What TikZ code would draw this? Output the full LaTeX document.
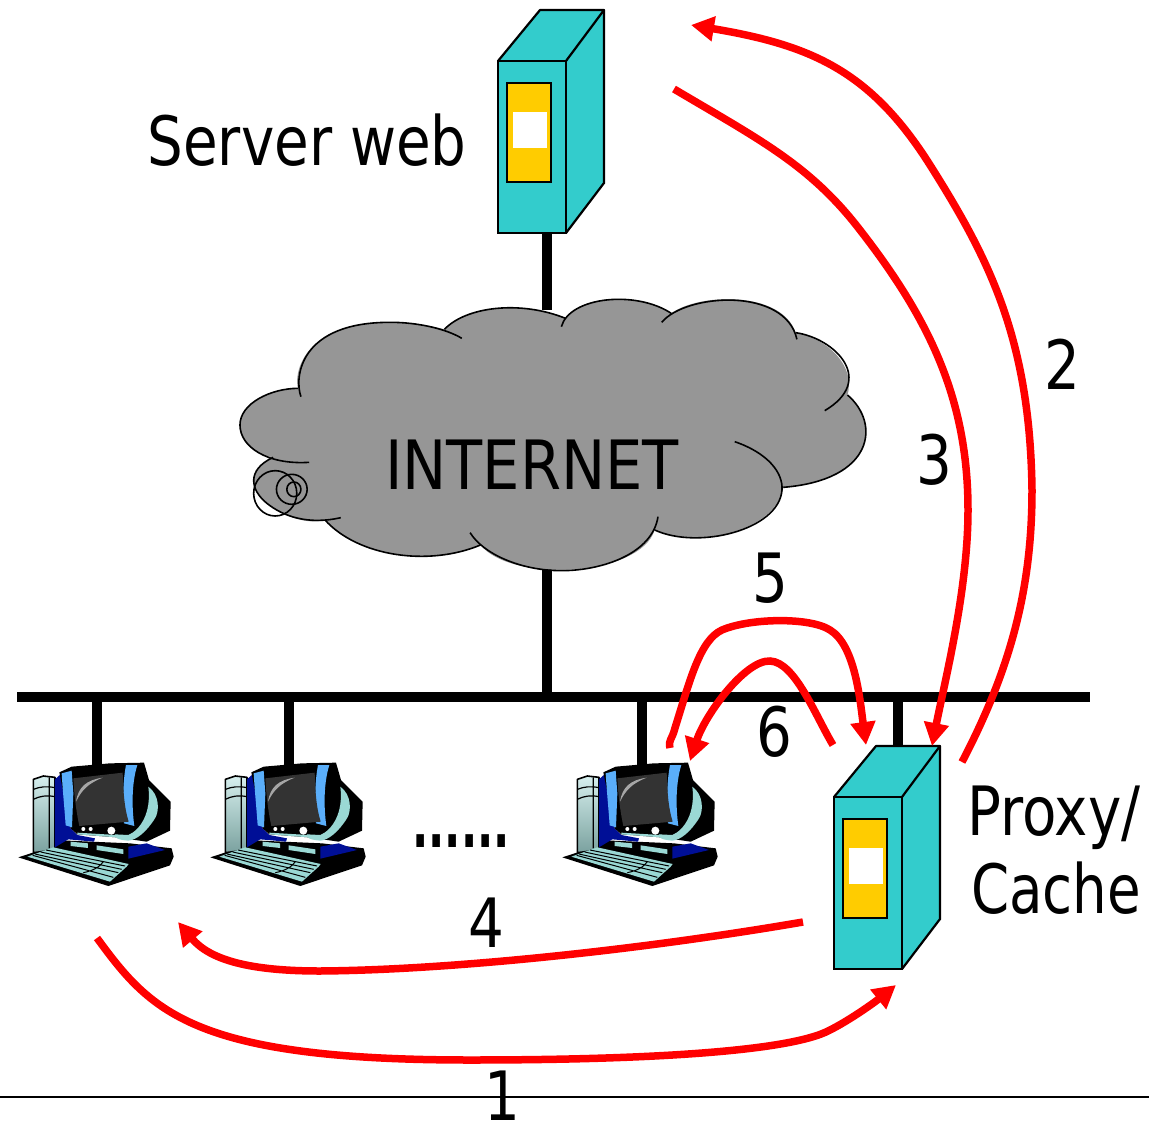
\documentclass[tikz,border=0pt]{standalone}
\usepackage{fontspec}
\setmainfont[FakeStretch=0.92]{DejaVu Sans Condensed}
\usetikzlibrary{arrows.meta}
\definecolor{boxteal}{HTML}{33CCCC}
\definecolor{boxgold}{HTML}{FFCC00}
\definecolor{cloudgray}{HTML}{969696}
\definecolor{netred}{HTML}{FF0000}
\definecolor{pcnavy}{HTML}{000F96}
\definecolor{pcblue}{HTML}{5AAEFA}
\definecolor{pcteal}{HTML}{9AD8D4}
\definecolor{pcscreen}{HTML}{333333}
\tikzset{
  x=1pt,y=-1pt,
  lbl/.style={inner sep=0pt,font=\fontsize{68}{80}\selectfont},
  wire/.style={line width=9.5pt,black},
  flow/.style={line width=7.5pt,netred,-{Triangle[length=23pt,width=24pt]}},
  front/.style={draw=black,line width=2.2pt,minimum width=68pt,minimum height=172pt,inner sep=0pt},
  pics/serverbox/.style={code={
    \fill[boxteal] (-34,-86) -- (8,-137) -- (72,-137) -- (72,36) -- (34,86) -- (-34,86) -- cycle;
    \draw[line width=2.2pt,line join=round] (-34,-86) -- (8,-137) -- (72,-137) -- (34,-86);
    \draw[line width=2.2pt] (72,-137) -- (72,36) -- (34,86);
    \draw[line width=2pt,fill=boxgold] (-25,-64) rectangle (19,35);
    \fill[white] (-19,-35) rectangle (15,1);
  }},
  pics/desktop/.style={code={
    \begin{scope}[scale=1/3]
      \fill[black] (55,352) -- (160,318) -- (160,300) -- (390,310) -- (515,325) -- (521,350) -- (510,376) -- (325,438) -- cycle;
      \shade[top color=white!60!pcteal,bottom color=pcteal!70!black!90,draw=black,line width=1.6pt,line join=round]
        (100,118) -- (130,108) -- (165,112) -- (165,330) -- (100,338) -- cycle;
      \draw[line width=1.2pt] (148,112) -- (148,325) (100,148) .. controls (120,140) and (140,138) .. (165,143);
      \draw[line width=1.2pt] (100,178) .. controls (120,168) and (140,165) .. (165,170);
      \fill[pcnavy] (165,118) -- (185,100) -- (212,265) -- (232,285) -- (285,295) -- (282,305) -- (205,298) -- (165,322) -- cycle;
      \fill[pcnavy] (385,320) -- (440,310) -- (495,330) -- (385,356) -- cycle;
      \fill[black] (178,97) -- (215,80) -- (330,70) -- (432,68) -- (447,120) -- (512,185) -- (510,272) -- (440,305) -- (350,292) -- (232,283) -- (212,265) -- cycle;
      \fill[pcteal] (445,140) .. controls (480,165) and (478,215) .. (465,235) .. controls (440,275) and (410,300) .. (385,302) .. controls (360,300) and (340,295) .. (345,283) -- (385,285) .. controls (420,270) and (455,220) .. cycle;
      \fill[pcteal] (232,278) -- (350,285) -- (350,292) -- (232,283) -- cycle;
      \fill[pcblue] (185,100) -- (215,92) -- (220,160) -- (216,262) -- (197,256) .. controls (193,200) and (188,150) .. cycle;
      \fill[pcblue] (378,75) -- (412,75) .. controls (395,130) and (395,200) .. (403,258) -- (372,250) .. controls (368,180) and (368,130) .. cycle;
      \fill[pcscreen] (220,115) -- (368,98) .. controls (370,150) and (372,200) .. (386,245) -- (238,258) .. controls (228,210) and (222,160) .. cycle;
      \fill[gray!70] (228,185) .. controls (235,140) and (260,120) .. (308,113) .. controls (265,130) and (245,150) .. cycle;
      \fill[white] (250,267) circle (6) (272,267) circle (6) (334,272) circle (12);
      \fill[pcteal] (212,305) -- (264,310) -- (264,324) -- (212,318) -- cycle;
      \fill[pcteal] (290,316) -- (370,328) -- (370,342) -- (290,330) -- cycle;
      \fill[pcteal] (82,350) -- (160,322) -- (386,372) -- (380,380) -- (330,425) -- cycle;
      \draw[line width=1pt] (105,342) -- (355,398) (122,336) -- (365,388) (138,330) -- (375,378) (98,346) -- (340,412) (250,398) .. controls (280,392) and (300,380) .. (310,365);
    \end{scope}
  }}
}
\begin{document}
\begin{tikzpicture}
\useasboundingbox (0,0) rectangle (1149,1124);
\coordinate (busL) at (17,697);
\coordinate (busR) at (1090,697);
\coordinate (busNet) at (547,697);
\coordinate (netTop) at (547,310);
\coordinate (netBot) at (547,560);
\coordinate (srvDrop) at (547,233);
\coordinate (pc1Top) at (97,765);
\coordinate (pc2Top) at (289,765);
\coordinate (pc3Top) at (642,765);
\coordinate (bus1) at (97,697);
\coordinate (bus2) at (289,697);
\coordinate (bus3) at (642,697);
\coordinate (bus4) at (898,697);
\coordinate (prxTop) at (898,748);
\coordinate (ruleL) at (0,1097);
\coordinate (ruleR) at (1149,1097);
% free ends of the flows
\coordinate (f1s) at (97,938);  \coordinate (f1e) at (896,985);
\coordinate (f2s) at (962,762); \coordinate (f2e) at (691,25);
\coordinate (f3s) at (674,89);  \coordinate (f3e) at (932,746);
\coordinate (f4s) at (803,922); \coordinate (f4e) at (178,922);
\coordinate (f5s) at (670,748); \coordinate (f5e) at (866,745);
\coordinate (f6s) at (833,745); \coordinate (f6e) at (690,761);

\draw[wire] (srvDrop) -- (netTop);
\draw[wire] (netBot) -- (busNet);
\draw[wire] (busL) -- (busR);
\draw[wire] (bus1) -- (pc1Top);
\draw[wire] (bus2) -- (pc2Top);
\draw[wire] (bus3) -- (pc3Top);
\draw[wire] (bus4) -- (prxTop);

% cloud
\begin{scope}[shift={(229.6,290)},xscale=0.4147,yscale=1/3,line width=1.6pt]
  \fill[cloudgray] (165,295) .. controls (155,260) and (170,95) .. (390,97) .. controls (430,97) and (480,105) .. (518,118)
   .. controls (570,50) and (700,30) .. (810,85)
   .. controls (860,10) and (990,10) .. (1065,70)
   .. controls (1130,10) and (1330,0) .. (1365,128)
   .. controls (1440,145) and (1510,225) .. (1490,315)
   .. controls (1570,400) and (1555,570) .. (1335,592)
   .. controls (1320,720) and (1130,780) .. (1025,720)
   .. controls (990,860) and (680,880) .. (605,765)
   .. controls (480,830) and (310,800) .. (230,690)
   .. controls (190,705) and (130,680) .. (90,640)
   .. controls (50,600) and (40,540) .. (105,502)
   .. controls (50,490) and (25,450) .. (25,405)
   .. controls (25,340) and (100,295) .. (165,295) -- cycle;
  \draw (172,320) .. controls (155,260) and (170,95) .. (390,97) .. controls (450,97) and (520,115) .. (560,145);
  \draw (518,118) .. controls (570,50) and (700,30) .. (810,85);
  \draw (800,110) .. controls (820,20) and (980,0) .. (1065,70);
  \draw (1042,97) .. controls (1100,10) and (1340,-10) .. (1368,148);
  \draw (1365,128) .. controls (1460,145) and (1560,270) .. (1435,362);
  \draw (1490,315) .. controls (1570,400) and (1555,570) .. (1335,592);
  \draw (1218,455) .. controls (1300,490) and (1335,550) .. (1332,600) .. controls (1325,720) and (1130,780) .. (1025,720);
  \draw (1033,680) .. controls (1020,790) and (900,842) .. (800,842) .. controls (700,842) and (610,790) .. (580,728);
  \draw (605,765) .. controls (480,830) and (310,800) .. (230,690);
  \draw (268,683) .. controls (190,705) and (130,680) .. (90,640) .. controls (50,600) and (40,540) .. (105,502);
  \draw (192,517) .. controls (90,525) and (25,470) .. (25,405) .. controls (25,340) and (100,295) .. (165,295);
  \draw (110,610) ellipse (52 and 68);
  \draw (150,598) ellipse (37 and 45);
  \draw (155,598) ellipse (17 and 22);
\end{scope}
\node[lbl] (internet) at (532,465) {\scalebox{1.05}[1]{INTERNET}};

% server and proxy
\pic at (532,147) {serverbox};
\node[front] (server) at (532,147) {};
\pic at (868,883) {serverbox};
\node[front] (proxy) at (868,883) {};

% hosts
\pic at (0,740) {desktop};
\pic at (192,740) {desktop};
\pic at (544,740) {desktop};

% flows
\draw[flow] (f1s) .. controls (150,1010) and (190,1060) .. (470,1060) .. controls (640,1060) and (790,1052) .. (830,1030) .. controls (850,1020) and (875,1002) .. (f1e);
\draw[flow] (f2s) .. controls (1010,670) and (1032,590) .. (1032,490) .. controls (1030,340) and (990,260) .. (930,165) .. controls (870,70) and (810,45) .. (f2e);
\draw[flow] (f3s) .. controls (760,140) and (810,165) .. (860,230) .. controls (930,320) and (968,400) .. (968,510) .. controls (968,590) and (945,680) .. (f3e);
\draw[flow] (f4s) .. controls (640,950) and (450,970) .. (320,971) .. controls (250,971) and (210,960) .. (f4e);
\draw[flow] (f5s) .. controls (668,740) and (672,740) .. (675,728) .. controls (690,680) and (700,640) .. (722,630) .. controls (750,618) and (810,617) .. (830,630) .. controls (855,645) and (860,700) .. (f5e);
\draw[flow] (f6s) .. controls (815,715) and (795,662) .. (770,661) .. controls (745,660) and (705,715) .. (f6e);

% rule
\draw[line width=2pt] (ruleL) -- (ruleR);

% labels
\node[lbl] (srvlbl) at (307,140) {Server web};
\node[lbl] (n2) at (1062,364) {2};
\node[lbl] (n3) at (934,460) {3};
\node[lbl] (n5) at (770,578) {5};
\node[lbl] (n6) at (774,732) {6};
\node[lbl] (n4) at (486,923) {4};
\node[lbl] (n1) at (502,1096) {1};
\node[lbl] (prx1) at (1054,818) {Proxy/};
\node[lbl] (prx2) at (1056,888) {\scalebox{0.97}[1]{Cache}};
\node[lbl] (dots) at (461,841) {\bfseries\scalebox{0.76}[1]{......}};
\end{tikzpicture}
\end{document}
